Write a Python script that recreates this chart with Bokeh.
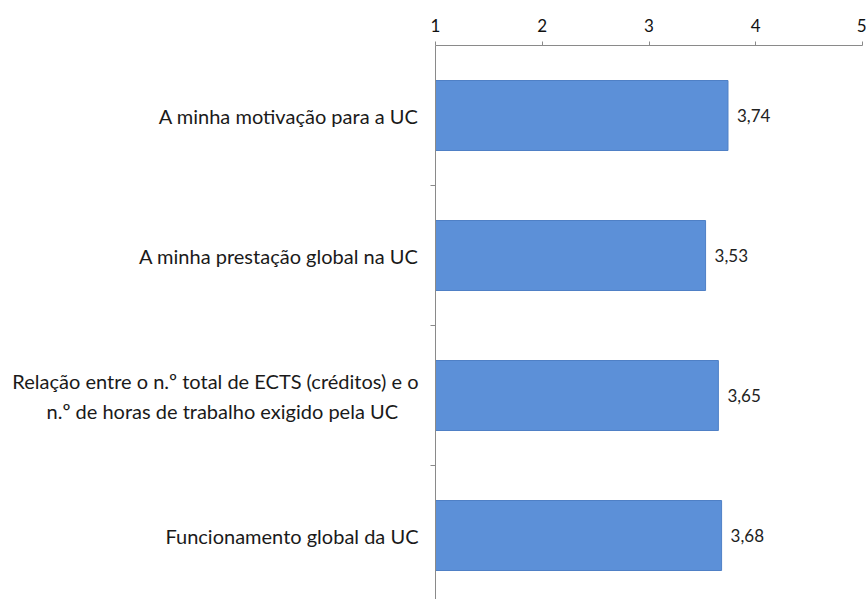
from bokeh.plotting import figure
from bokeh.models import Range1d, FixedTicker, ColumnDataSource
from bokeh.core.properties import value
from bokeh.embed import file_html
from bokeh.resources import INLINE

categories = [
    "A minha motivação para a UC",
    "A minha prestação global na UC",
    "Relação entre o n.º total de ECTS (créditos) e o\nn.º de horas de trabalho exigido pela UC",
    "Funcionamento global da UC",
]
scores = [3.74, 3.53, 3.65, 3.68]
score_labels = ["3,74", "3,53", "3,65", "3,68"]
x_ticks = [1, 2, 3, 4, 5]

positions = [i + 0.5 for i in range(len(categories))]
boundaries = [i + 1 for i in range(len(categories) - 1)]

FONT = "Lato"
CAT_SIZE = "20px"
NBSP = "\u00a0"


def centre_lines(label):
    # the axis right-aligns each line; pad shorter lines so they sit centred
    lines = label.split("\n")
    if len(lines) == 1:
        return label
    longest = max(len(l) for l in lines)
    return "\n".join(l + NBSP * ((longest - len(l)) // 2) for l in lines)


p = figure(width=866, height=599, output_backend="svg", toolbar_location=None,
           x_range=Range1d(1, 5), y_range=Range1d(554 / 140, 0),
           x_axis_location="above", min_border_left=435, min_border_top=45,
           min_border_right=4, min_border_bottom=0)
p.outline_line_color = None
p.grid.visible = False
p.background_fill_color = "white"
p.border_fill_color = "white"

src = ColumnDataSource(dict(y=positions, right=scores, lab=score_labels))
p.hbar(y="y", left=1, right="right", height=0.5, source=src,
       fill_color="#5c90d8", line_color="#4f80c6", line_width=1)
p.text(x="right", y="y", text="lab", source=src, x_offset=9,
       text_baseline="middle", text_align="left", text_font=value(FONT),
       text_font_size="17px", text_color="#222222")

xa = p.xaxis[0]
xa.ticker = FixedTicker(ticks=x_ticks)
xa.major_label_text_font = FONT
xa.major_label_text_font_size = "17px"
xa.major_label_text_color = "#111111"
xa.major_tick_out = 4
xa.major_tick_in = 0
xa.minor_tick_out = 0
xa.minor_tick_in = 0
xa.axis_line_color = "#8a8a8a"
xa.major_tick_line_color = "#8a8a8a"
xa.major_label_standoff = 10

ya = p.yaxis[0]
ya.ticker = FixedTicker(ticks=positions, minor_ticks=boundaries)
ya.major_label_overrides = {pos: centre_lines(cat) for pos, cat in zip(positions, categories)}
ya.major_label_text_font = FONT
ya.major_label_text_font_size = CAT_SIZE
ya.major_label_text_color = "#1a1a1a"
ya.major_label_text_line_height = 1.25
ya.major_tick_out = 0
ya.major_tick_in = 0
ya.minor_tick_out = 5
ya.minor_tick_in = 0
ya.minor_tick_line_color = "#8a8a8a"
ya.axis_line_color = "#8a8a8a"
ya.major_label_standoff = 12

open("out.html", "w").write(file_html(p, INLINE))
